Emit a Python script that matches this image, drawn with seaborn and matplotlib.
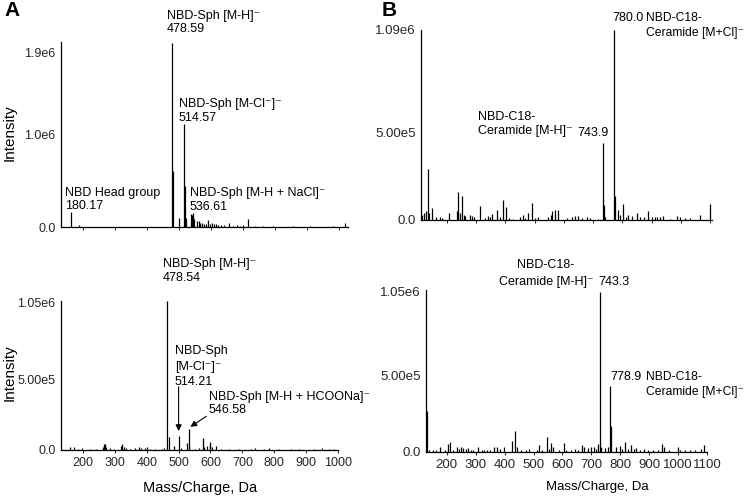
import numpy as np
import pandas as pd
import matplotlib
matplotlib.use("Agg")
import matplotlib.pyplot as plt
import seaborn as sns

# ---- Panel A, top spectrum (m/z, intensity) ----
a_top_mz = [161, 187, 477, 480, 500, 514, 517, 522, 536, 539, 542, 545, 548, 556,
            561, 565, 572, 578, 584, 590, 597, 603, 609, 615, 622, 631, 640, 656,
            668, 681, 690, 700, 715, 737, 762, 793, 856, 909, 981, 1018]
a_top_int = [0.16e6, 0.02e6, 2.0e6, 0.61e6, 0.10e6, 1.12e6, 0.45e6, 0.10e6, 0.14e6,
             0.13e6, 0.15e6, 0.12e6, 0.09e6, 0.06e6, 0.07e6, 0.04e6, 0.04e6, 0.03e6,
             0.035e6, 0.08e6, 0.035e6, 0.04e6, 0.03e6, 0.03e6, 0.02e6, 0.025e6,
             0.02e6, 0.045e6, 0.015e6, 0.02e6, 0.015e6, 0.02e6, 0.085e6, 0.008e6,
             0.01e6, 0.01e6, 0.006e6, 0.012e6, 0.015e6, 0.045e6]

# ---- Panel A, bottom spectrum ----
a_bot_mz = [159, 172, 184, 197, 222, 240, 262, 265, 268, 272, 284, 297, 319, 322, 328,
            334, 347, 362, 375, 381, 393, 400, 409, 425, 447, 453, 465, 469, 487, 500,
            506, 525, 531, 534, 550, 565, 578, 581, 590, 597, 600, 606, 618, 634, 659,
            690, 728, 740, 768, 784, 815, 853, 878, 925, 950, 972, 987]
a_bot_int = [0.02e6, 0.02e6, 0.01e6, 0.015e6, 0.008e6, 0.008e6, 0.02e6, 0.04e6,
             0.045e6, 0.02e6, 0.015e6, 0.01e6, 0.03e6, 0.045e6, 0.02e6, 0.015e6,
             0.01e6, 0.015e6, 0.02e6, 0.015e6, 0.012e6, 0.02e6, 0.01e6, 0.008e6,
             0.01e6, 0.015e6, 1.06e6, 0.09e6, 0.025e6, 0.10e6, 0.015e6, 0.05e6,
             0.15e6, 0.03e6, 0.01e6, 0.015e6, 0.085e6, 0.02e6, 0.03e6, 0.04e6,
             0.055e6, 0.02e6, 0.025e6, 0.008e6, 0.006e6, 0.008e6, 0.01e6, 0.012e6,
             0.008e6, 0.012e6, 0.008e6, 0.01e6, 0.006e6, 0.01e6, 0.012e6, 0.01e6,
             0.008e6]

# ---- Panel B, top spectrum ----
b_top_mz = [114, 121, 127, 134, 138, 148, 162, 176, 183, 206, 234, 239, 245, 250, 257,
            263, 279, 286, 293, 313, 330, 340, 347, 354, 370, 382, 391, 402, 412, 426,
            450, 459, 467, 477, 490, 501, 512, 546, 556, 561, 571, 580, 610, 628, 638,
            649, 662, 678, 690, 717, 733, 736, 741, 770, 774, 785, 793, 804, 813, 821,
            833, 850, 861, 875, 887, 902, 912, 919, 929, 940, 964, 988, 998, 1015,
            1032, 1066, 1101]
b_top_int = [0.027e6, 0.04e6, 0.05e6, 0.29e6, 0.04e6, 0.07e6, 0.015e6, 0.02e6, 0.01e6,
             0.04e6, 0.05e6, 0.16e6, 0.04e6, 0.14e6, 0.03e6, 0.025e6, 0.03e6, 0.025e6,
             0.02e6, 0.08e6, 0.01e6, 0.025e6, 0.02e6, 0.035e6, 0.057e6, 0.015e6,
             0.115e6, 0.073e6, 0.01e6, 0.008e6, 0.02e6, 0.03e6, 0.01e6, 0.04e6,
             0.10e6, 0.01e6, 0.02e6, 0.015e6, 0.03e6, 0.05e6, 0.06e6, 0.055e6,
             0.01e6, 0.015e6, 0.025e6, 0.025e6, 0.01e6, 0.02e6, 0.01e6, 0.008e6,
             0.44e6, 0.086e6, 0.015e6, 1.09e6, 0.14e6, 0.057e6, 0.03e6, 0.09e6,
             0.02e6, 0.03e6, 0.025e6, 0.04e6, 0.02e6, 0.02e6, 0.05e6, 0.02e6,
             0.015e6, 0.02e6, 0.02e6, 0.025e6, 0.008e6, 0.025e6, 0.015e6, 0.01e6,
             0.01e6, 0.03e6, 0.09e6]

# ---- Panel B, bottom spectrum ----
b_bot_mz = [132, 138, 152, 162, 176, 193, 204, 210, 220, 234, 241, 248, 255, 265, 272,
            282, 289, 307, 320, 330, 340, 351, 364, 375, 385, 399, 427, 436, 442, 457,
            474, 484, 512, 518, 529, 545, 553, 562, 567, 587, 604, 611, 631, 642, 655,
            669, 676, 690, 700, 710, 717, 724, 730, 734, 748, 756, 766, 768, 786, 798,
            806, 816, 827, 837, 847, 855, 868, 881, 895, 912, 929, 946, 950, 970, 998,
            1005, 1025, 1042, 1059, 1080, 1088]
b_bot_int = [0.27e6, 0.01e6, 0.01e6, 0.015e6, 0.035e6, 0.01e6, 0.05e6, 0.067e6,
             0.01e6, 0.03e6, 0.02e6, 0.03e6, 0.025e6, 0.02e6, 0.025e6, 0.015e6,
             0.01e6, 0.03e6, 0.015e6, 0.01e6, 0.015e6, 0.01e6, 0.03e6, 0.035e6,
             0.02e6, 0.035e6, 0.07e6, 0.14e6, 0.03e6, 0.01e6, 0.015e6, 0.02e6,
             0.01e6, 0.045e6, 0.01e6, 0.10e6, 0.02e6, 0.06e6, 0.03e6, 0.01e6,
             0.06e6, 0.015e6, 0.015e6, 0.02e6, 0.015e6, 0.045e6, 0.03e6, 0.025e6,
             0.03e6, 0.035e6, 0.02e6, 0.05e6, 1.05e6, 0.03e6, 0.025e6, 0.03e6,
             0.43e6, 0.17e6, 0.03e6, 0.04e6, 0.02e6, 0.065e6, 0.02e6, 0.045e6,
             0.02e6, 0.025e6, 0.015e6, 0.02e6, 0.01e6, 0.015e6, 0.01e6, 0.05e6,
             0.03e6, 0.015e6, 0.035e6, 0.015e6, 0.015e6, 0.01e6, 0.015e6, 0.02e6,
             0.045e6]

# axis limits / ticks
a_top_xlim, a_bot_xlim = (131, 1028), (131, 997)
b_top_xlim, b_bot_xlim = (111, 1107), (128, 1090)
a_top_yticks, a_top_ylab = [0, 1.0e6, 1.9e6], ["0.0", "1.0e6", "1.9e6"]
a_bot_yticks, a_bot_ylab = [0, 5.0e5, 1.05e6], ["0.0", "5.00e5", "1.05e6"]
b_top_yticks, b_top_ylab = [0, 5.0e5, 1.09e6], ["0.0", "5.00e5", "1.09e6"]
b_bot_yticks, b_bot_ylab = [0, 5.0e5, 1.05e6], ["0.0", "5.00e5", "1.05e6"]
a_xticks = list(range(200, 1001, 100))
b_xticks = list(range(200, 1101, 100))

sns.set_theme(style="white")
plt.rcParams['font.family'] = ['Liberation Sans', 'DejaVu Sans']

W, H = 747, 500
fig = plt.figure(figsize=(W / 100, H / 100), dpi=100)


def make_ax(left, top, right, bottom):
    return fig.add_axes([left / W, 1 - bottom / H, (right - left) / W, (bottom - top) / H])


def ptext(x, y, s, **kw):
    kw.setdefault("va", "center")
    kw.setdefault("ha", "left")
    kw.setdefault("fontsize", 9)
    fig.text(x / W, 1 - y / H, s, color="black", **kw)


def spectrum(ax, mz, inten, xlim, ylim, yticks, ylabels, xticks=None, tsize=9):
    df = pd.DataFrame({"mz": mz, "intensity": inten})
    ax.vlines(df["mz"], 0, df["intensity"], color="black", lw=0.9)
    ax.set_xlim(*xlim)
    ax.set_ylim(*ylim)
    ax.set_yticks(yticks)
    ax.set_yticklabels(ylabels, fontsize=tsize)
    ax.tick_params(axis="y", length=0, pad=4)
    ax.set_xticks(xticks if xticks is not None else list(range(200, int(xlim[1]) + 1, 100)))
    if xticks is None:
        ax.set_xticklabels([])
    else:
        ax.set_xticklabels([str(t) for t in xticks], fontsize=tsize)
    ax.tick_params(axis="x", length=2, width=0.6, pad=3, color="black", direction="out",
                   bottom=True)
    sns.despine(ax=ax)
    for sp in ["left", "bottom"]:
        ax.spines[sp].set_color("black")
        ax.spines[sp].set_linewidth(0.9)
    ax.set_facecolor("white")
    ax.grid(False)


ax1 = make_ax(61, 42, 348, 227)
spectrum(ax1, a_top_mz, a_top_int, a_top_xlim, (0, 2.01e6), a_top_yticks, a_top_ylab)
ax2 = make_ax(61, 301, 338, 450)
spectrum(ax2, a_bot_mz, a_bot_int, a_bot_xlim, (0, 1.06e6), a_bot_yticks, a_bot_ylab,
         xticks=a_xticks)
ax3 = make_ax(421, 30, 712, 220)
spectrum(ax3, b_top_mz, b_top_int, b_top_xlim, (0, 1.09e6), b_top_yticks, b_top_ylab,
         tsize=9.5)
ax4 = make_ax(426, 290, 707, 452)
spectrum(ax4, b_bot_mz, b_bot_int, b_bot_xlim, (0, 1.06e6), b_bot_yticks, b_bot_ylab,
         xticks=b_xticks, tsize=9.5)

# arrows in panel A bottom
arrow = dict(arrowstyle="-|>", color="black", lw=0.8, mutation_scale=9,
             shrinkA=0, shrinkB=0)
ax2.annotate("", xy=(500, 0.135e6), xytext=(500, 0.45e6), arrowprops=arrow)
ax2.annotate("", xy=(537, 0.165e6), xytext=(587, 0.24e6), arrowprops=arrow)

# panel letters and axis labels
ptext(4, 11, "A", fontsize=15, fontweight="bold")
ptext(382, 11, "B", fontsize=15, fontweight="bold")
ptext(10, 133, "Intensity", fontsize=11, rotation=90, ha="center")
ptext(10, 373, "Intensity", fontsize=11, rotation=90, ha="center")
ptext(200, 488, "Mass/Charge, Da", fontsize=10.5, ha="center")
ptext(597, 487, "Mass/Charge, Da", fontsize=9.5, ha="center")

# peak annotations, panel A
ptext(167, 16, "NBD-Sph [M-H]⁻")
ptext(167, 29, "478.59")
ptext(179, 104, "NBD-Sph [M-Cl⁻]⁻")
ptext(179, 118, "514.57")
ptext(65, 193, "NBD Head group")
ptext(65, 206, "180.17")
ptext(190, 193, "NBD-Sph [M-H + NaCl]⁻")
ptext(190, 207, "536.61")
ptext(163, 264, "NBD-Sph [M-H]⁻")
ptext(163, 278, "478.54")
ptext(175, 351, "NBD-Sph")
ptext(175, 367, "[M-Cl⁻]⁻")
ptext(175, 382, "514.21")
ptext(209, 397, "NBD-Sph [M-H + HCOONa]⁻")
ptext(209, 410, "546.58")

# peak annotations, panel B
ptext(612, 18, "780.0")
ptext(646, 18, "NBD-C18-", fontsize=8.7)
ptext(646, 33, "Ceramide [M+Cl]⁻", fontsize=8.7)
ptext(478, 117, "NBD-C18-")
ptext(478, 131, "Ceramide [M-H]⁻")
ptext(577, 133, "743.9")
ptext(517, 265, "NBD-C18-")
ptext(499, 282, "Ceramide [M-H]⁻")
ptext(598, 282, "743.3")
ptext(610, 377, "778.9")
ptext(646, 377, "NBD-C18-", fontsize=8.7)
ptext(646, 392, "Ceramide [M+Cl]⁻", fontsize=8.7)

fig.savefig("out.png", dpi=100, facecolor="white")
